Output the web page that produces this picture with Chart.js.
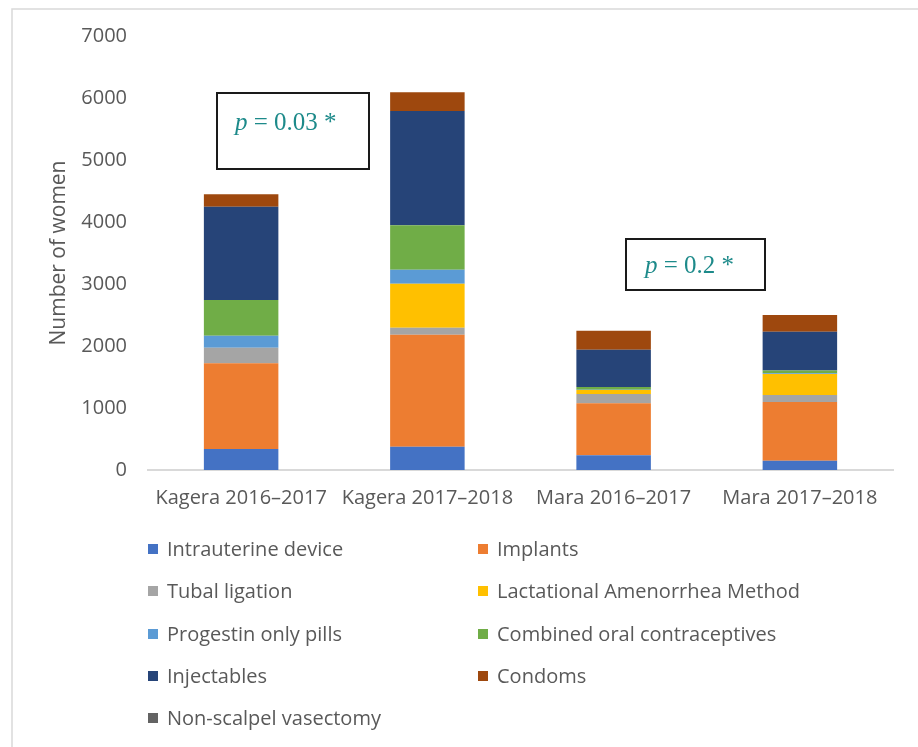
<!DOCTYPE html>
<html>
<head>
<meta charset="utf-8" />
<title>Contraceptive methods - Kagera / Mara</title>
<script src="https://cdn.jsdelivr.net/npm/chart.js@4.4.1/dist/chart.umd.min.js"></script>
<style>
  html, body { margin: 0; padding: 0; background: #fff; }
  #wrap { width: 918px; height: 747px; position: relative; }
</style>
</head>
<body>
<div id="wrap"><canvas id="chart" width="918" height="747"></canvas></div>
<script>
// categories and series (stack order bottom -> top)
const categories = ["Kagera 2016\u20132017", "Kagera 2017\u20132018", "Mara 2016\u20132017", "Mara 2017\u20132018"];
const yTicks = [0, 1000, 2000, 3000, 4000, 5000, 6000, 7000];

const intrauterine = [340, 376, 237, 150];
const implants     = [1380, 1807, 838, 947];
const tubal        = [253, 113, 150, 113];
const lam          = [0, 709, 65, 340];
const progestin    = [194, 226, 5, 10];
const combinedOral = [575, 715, 43, 45];
const injectables  = [1505, 1844, 600, 624];
const condoms      = [200, 302, 307, 269];
const vasectomy    = [0, 0, 0, 0];

const pLabels = ["0.03 *", "0.2 *"];

const TXT = "#595959";
const SANS = "'Open Sans', 'Noto Sans', sans-serif";

const series = [
  ["Intrauterine device", intrauterine, "#4472C4"],
  ["Implants", implants, "#ED7D31"],
  ["Tubal ligation", tubal, "#A5A5A5"],
  ["Lactational Amenorrhea Method", lam, "#FFC000"],
  ["Progestin only pills", progestin, "#5B9BD5"],
  ["Combined oral contraceptives", combinedOral, "#70AD47"],
  ["Injectables", injectables, "#264478"],
  ["Condoms", condoms, "#9E480E"],
  ["Non-scalpel vasectomy", vasectomy, "#636363"]
];

// frame, legend in two columns, p-value boxes
const extras = {
  id: "extras",
  beforeDraw(chart) {
    const ctx = chart.ctx;
    ctx.save();
    ctx.fillStyle = "#fff";
    ctx.fillRect(0, 0, chart.width, chart.height);
    ctx.strokeStyle = "#d9d9d9";
    ctx.lineWidth = 1.5;
    ctx.strokeRect(12, 9, chart.width, chart.height);
    ctx.restore();
  },
  afterDraw(chart) {
    const ctx = chart.ctx;
    ctx.save();
    // legend
    const colX = [148, 478];
    const rowY = [549, 591, 634, 676, 718];
    ctx.font = "20px " + SANS;
    ctx.textBaseline = "middle";
    chart.data.datasets.forEach((ds, i) => {
      const x = colX[i % 2], y = rowY[Math.floor(i / 2)];
      ctx.fillStyle = ds.backgroundColor;
      ctx.fillRect(x, y - 5, 10, 10);
      ctx.fillStyle = TXT;
      ctx.fillText(ds.label, x + 19, y + 1);
    });

    // p-value boxes
    const boxes = [
      { x: 217, y: 93, w: 152, h: 76, tx: 235, ty: 123 },
      { x: 626, y: 239, w: 139, h: 51, tx: 645, ty: 266 }
    ];
    boxes.forEach((b, i) => {
      ctx.strokeStyle = "#1a1a1a";
      ctx.lineWidth = 2;
      ctx.strokeRect(b.x, b.y, b.w, b.h);
      ctx.fillStyle = "#1d8a8a";
      ctx.font = "italic 25px 'Liberation Serif', 'DejaVu Serif', serif";
      ctx.fillText("p", b.tx, b.ty);
      const pw = ctx.measureText("p").width;
      ctx.font = "25px 'Liberation Serif', 'DejaVu Serif', serif";
      ctx.fillText(" = " + pLabels[i], b.tx + pw, b.ty);
    });
    ctx.restore();
  }
};

new Chart(document.getElementById("chart"), {
  type: "bar",
  data: {
    labels: categories,
    datasets: series.map(s => ({
      label: s[0],
      data: s[1],
      backgroundColor: s[2],
      borderWidth: 0,
      barPercentage: 0.8,
      categoryPercentage: 0.5
    }))
  },
  options: {
    responsive: false,
    animation: false,
    layout: { padding: { left: 0, right: 25, top: 36, bottom: 217 } },
    plugins: {
      legend: { display: false },
      tooltip: { enabled: false }
    },
    scales: {
      x: {
        stacked: true,
        grid: { display: false, drawTicks: false },
        border: { display: true, color: "#d9d9d9", width: 2 },
        ticks: { color: TXT, font: { family: SANS, size: 20 }, padding: 16, maxRotation: 0 },
        afterFit(scale) { scale.height = 60; }
      },
      y: {
        stacked: true,
        min: 0,
        max: 7000,
        afterBuildTicks(scale) { scale.ticks = yTicks.map(v => ({ value: v })); },
        grid: { display: false, drawTicks: false },
        border: { display: false },
        ticks: {
          color: TXT,
          font: { family: SANS, size: 20 },
          padding: 21,
          callback: v => String(v)
        },
        title: {
          display: true,
          text: "Number of women",
          color: TXT,
          font: { family: SANS, size: 21 },
          padding: { top: 46, bottom: 0 }
        },
        afterFit(scale) { scale.width = 148; }
      }
    }
  },
  plugins: [extras]
});
</script>
</body>
</html>
